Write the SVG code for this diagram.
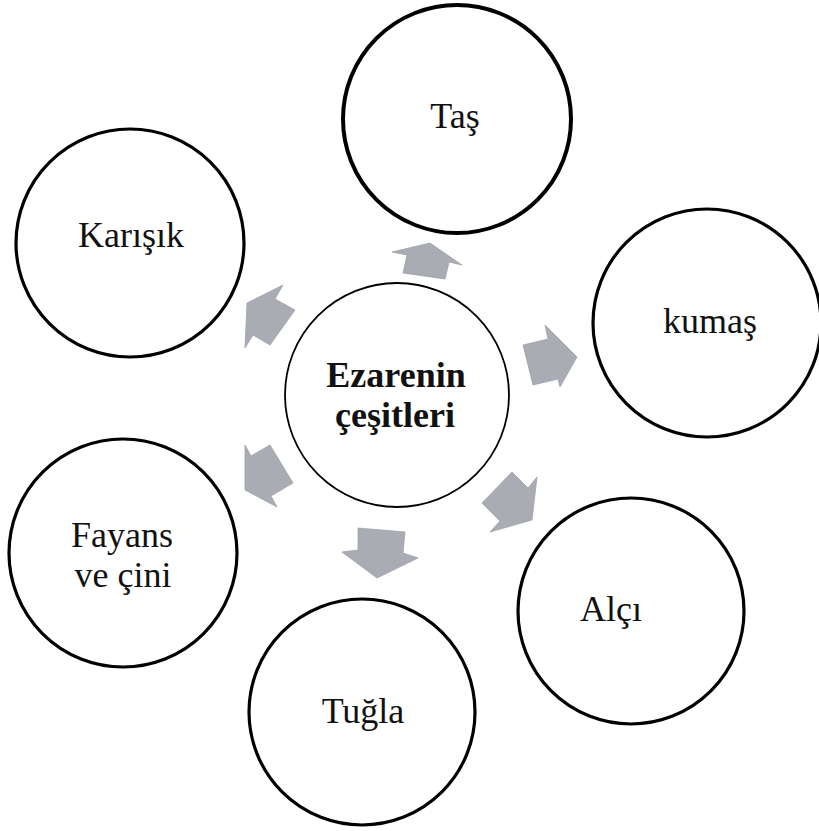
<svg xmlns="http://www.w3.org/2000/svg" width="819" height="831" viewBox="0 0 819 831">
<style>
.outer{fill:#fff;stroke:#000;stroke-width:3.2}
.center{fill:#fff;stroke:#000;stroke-width:1.8}
.lbl{font-family:"Liberation Serif","Times New Roman",serif;font-size:36px;fill:#111;text-anchor:middle}
.bold{font-weight:bold}
.arrow{fill:#a9acb3;stroke:#9ea1a8;stroke-width:0.8;stroke-linejoin:round}
</style>
<rect width="819" height="831" fill="#fff"/>
<g id="connectors">
<polygon class="arrow" points="403,273 407,255 392,252 430,243 462,265 449,262 445,279"/>
<polygon class="arrow" points="523,345 548,339 545,325 577,357 560,387 558,379 533,385"/>
<polygon class="arrow" points="482,503 512,472 528,488 537,477 532,520 490,532 500,521"/>
<polygon class="arrow" points="358,528 405,532 403,553 418,558 377,578 342,552 358,550"/>
<polygon class="arrow" points="245,445 251,456 270,445 293,483 271,496 277,507 245,490"/>
<polygon class="arrow" points="247,303 283,285 275,299 295,310 270,345 253,335 245,348"/>
</g>
<g id="node-center">
<circle class="center" cx="397" cy="395" r="112"/>
<text class="lbl bold" x="396" y="387">Ezarenin</text>
<text class="lbl bold" x="395" y="427">çeşitleri</text>
</g>
<g id="node-tas">
<circle class="outer" cx="457" cy="119" r="114" style="stroke-width:4"/>
<text class="lbl" x="455" y="128">Taş</text>
</g>
<g id="node-kumas">
<circle class="outer" cx="707" cy="323" r="114"/>
<text class="lbl" x="710" y="333">kumaş</text>
</g>
<g id="node-alci">
<circle class="outer" cx="631" cy="611" r="113"/>
<text class="lbl" x="611" y="621">Alçı</text>
</g>
<g id="node-tugla">
<circle class="outer" cx="362" cy="712" r="113"/>
<text class="lbl" x="363" y="723">Tuğla</text>
</g>
<g id="node-fayans">
<circle class="outer" cx="123" cy="553" r="114"/>
<text class="lbl" x="122" y="547">Fayans</text>
<text class="lbl" x="123" y="587">ve çini</text>
</g>
<g id="node-karisik">
<circle class="outer" cx="130" cy="243" r="114"/>
<text class="lbl" x="131" y="247">Karışık</text>
</g>
</svg>
